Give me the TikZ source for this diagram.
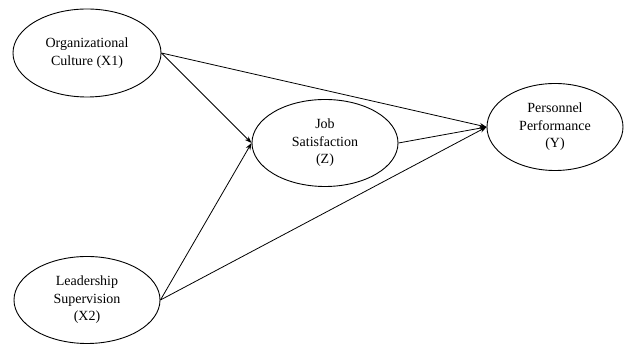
\documentclass[tikz,border=0pt]{standalone}
\usepackage{fontspec}
\setmainfont{Liberation Serif}
\usetikzlibrary{shapes.geometric,arrows.meta}
\begin{document}
\begin{tikzpicture}[x=1pt,y=-1pt,
  var/.style={draw, ellipse, inner sep=0pt, line width=0.9pt, align=center,
    font=\fontsize{14}{17.5}\selectfont},
  link/.style={line width=0.8pt, -{Stealth[length=7pt,width=5pt]}}]
\useasboundingbox (0,0) rectangle (625,344);
\node[var, minimum width=148pt, minimum height=88pt] (x1) at (87,53) {Organizational\\Culture (X1)};
\node[var, minimum width=146pt, minimum height=87pt] (x2) at (87,300) {Leadership\\Supervision\\(X2)};
\node[var, minimum width=146pt, minimum height=87pt] (z) at (325,143) {Job\\Satisfaction\\(Z)};
\node[var, minimum width=136pt, minimum height=87pt] (y) at (555,127) {Personnel\\Performance\\(Y)};
\draw[link] (x1.east) -- (z.west);
\draw[link] (x1.east) -- (y.west);
\draw[link] (x2.east) -- (z.west);
\draw[link] (x2.east) -- (y.west);
\draw[link] (z.east) -- (y.west);
\end{tikzpicture}
\end{document}
